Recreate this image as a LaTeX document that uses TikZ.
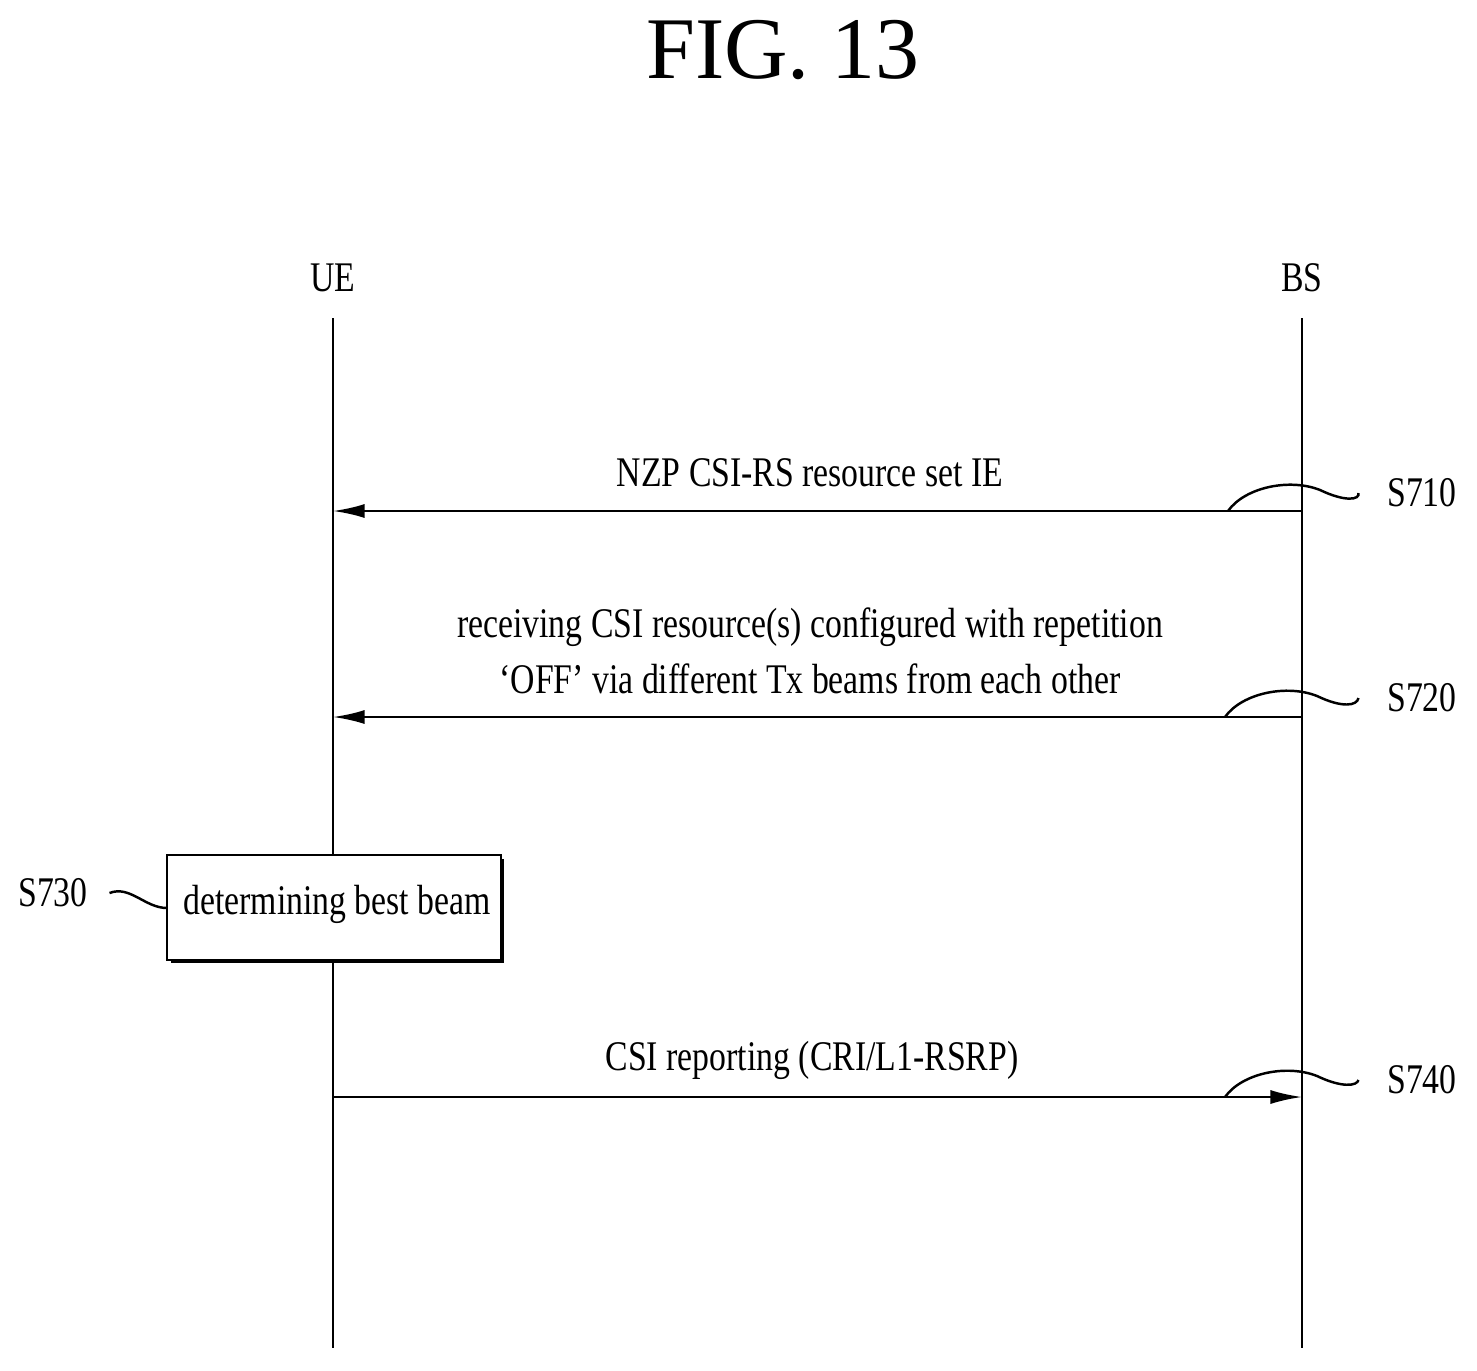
\documentclass[tikz,border=0pt]{standalone}
\usepackage{fontspec}
\setmainfont{Liberation Serif}[FakeStretch=0.8]
\newfontfamily\titlefont{Liberation Serif}
\usetikzlibrary{arrows.meta}
\begin{document}
\begin{tikzpicture}[x=0.01cm,y=-0.01cm,
  txt/.style={font=\fontsize{12pt}{15pt}\selectfont,inner sep=0pt},
  life/.style={line width=0.7pt},
  msg/.style={line width=0.7pt,-{Latex[length=9pt,width=4pt]}},
  lead/.style={line width=0.7pt}]
\useasboundingbox (0,0) rectangle (1477,1370);
\node[font=\titlefont\fontsize{25pt}{30pt}\selectfont] (title) at (783,50) {FIG.\ 13};
\node[txt] (ue) at (333,278) {UE};
\node[txt] (bs) at (1302,278) {BS};
\coordinate (uetop) at (333,318); \coordinate (uebot) at (333,1348);
\coordinate (bstop) at (1302,318); \coordinate (bsbot) at (1302,1348);
\draw[life] (uetop) -- (uebot);
\draw[life] (bstop) -- (bsbot);
% S710
\coordinate (b1) at (1302,511); \coordinate (u1) at (333,511);
\draw[msg] (b1) -- (u1);
\node[txt] (m1) at (810,473) {NZP CSI-RS resource set IE};
\node[txt] (s710) at (1422,493) {S710};
\draw[lead] (1228,511) .. controls (1245,487) and (1290,478) .. (1320,490) .. controls (1345,502) and (1360,500) .. ([xshift=-8pt]s710.west);
% S720
\coordinate (b2) at (1302,717); \coordinate (u2) at (333,717);
\draw[msg] (b2) -- (u2);
\node[txt,align=center] (m2) at (810,651) {receiving CSI resource(s) configured with repetition\\[1pt]‘OFF’ via different Tx beams from each other};
\node[txt] (s720) at (1422,698) {S720};
\draw[lead] (1225,717) .. controls (1242,693) and (1287,684) .. (1317,696) .. controls (1342,708) and (1357,706) .. ([xshift=-8pt]s720.west);
% S730
\fill (171,859) rectangle (504,963);
\draw[fill=white,line width=0.7pt] (167,855) rectangle (501,960);
\node[txt] (bt) at (337,904) {determining best beam};
\node[txt] (s730) at (53,893) {S730};
\draw[lead] ([xshift=6pt]s730.east) .. controls (130,885) and (145,908) .. (167,908);
% S740
\coordinate (u4) at (333,1097); \coordinate (b4) at (1302,1097);
\draw[msg] (u4) -- (b4);
\node[txt] (m4) at (812,1060) {CSI reporting (CRI/L1-RSRP)};
\node[txt] (s740) at (1422,1080) {S740};
\draw[lead] (1225,1097) .. controls (1242,1073) and (1287,1064) .. (1317,1076) .. controls (1342,1088) and (1357,1086) .. ([xshift=-8pt]s740.west);
\end{tikzpicture}
\end{document}
